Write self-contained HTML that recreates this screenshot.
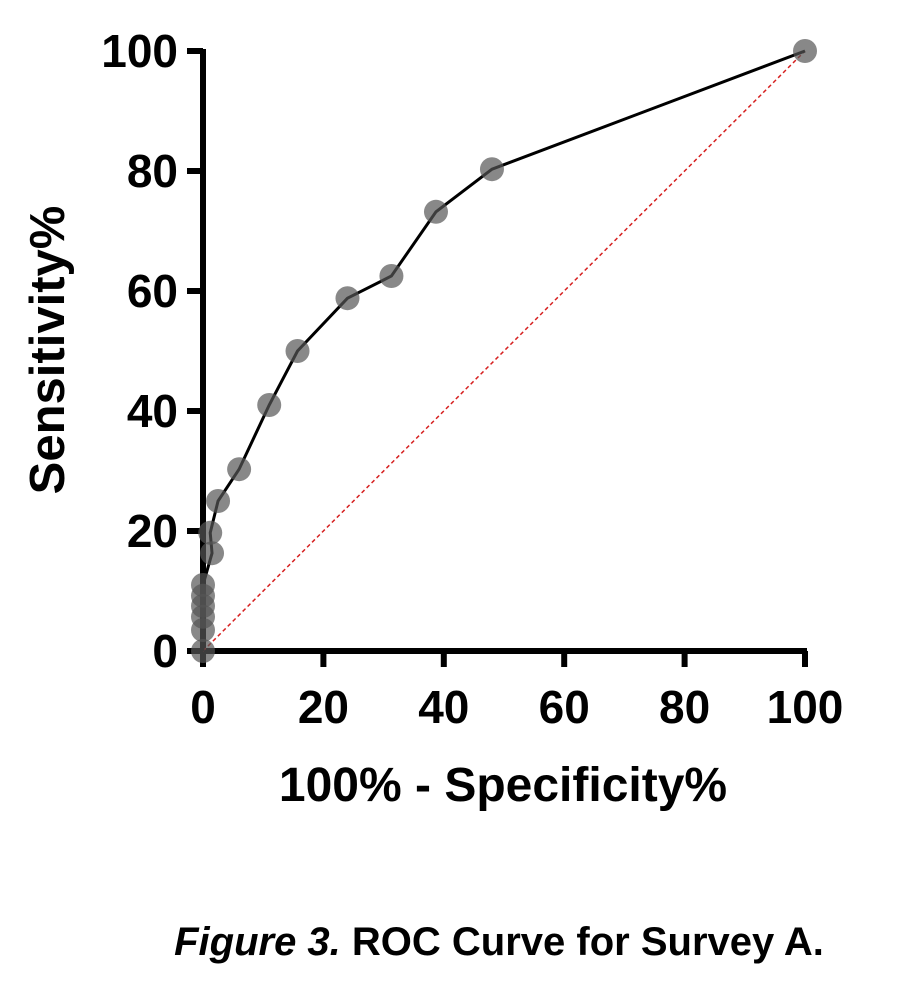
<!DOCTYPE html>
<html><head><meta charset="utf-8"><style>
body{margin:0;background:#fff;}
svg{display:block;font-family:"Liberation Sans",sans-serif;}
</style></head><body>
<svg width="913" height="988">
<g id="axes"></g>
<g id="marks"></g>
<text x="64" y="350" transform="rotate(-90 64 350)" text-anchor="middle" font-size="49" font-weight="bold">Sensitivity%</text>
<text x="503" y="801" text-anchor="middle" font-size="48" font-weight="bold">100% - Specificity%</text>
<text x="499" y="955" text-anchor="middle" font-size="40" font-weight="bold"><tspan font-style="italic">Figure 3.</tspan> ROC Curve for Survey A.</text>
</svg>
<script>
const xTicks=[0,20,40,60,80,100];
const yTicks=[0,20,40,60,80,100];
const fpr=[0,0,0,0,0,0,1.5,1.2,2.5,6,11,15.7,24,31.3,38.7,48,100];
const tpr=[0,3.5,5.7,7.5,9.2,11,16.3,19.7,25,30.3,41,50,58.8,62.5,73.2,80.3,100];
const X=v=>203+v*6.02, Y=v=>651-v*6.0;
const NS="http://www.w3.org/2000/svg";
const axes=document.getElementById('axes'), marks=document.getElementById('marks');
function mk(p,tag,a){const e=document.createElementNS(NS,tag);for(const k in a)e.setAttribute(k,a[k]);p.appendChild(e);return e;}
let e=mk(axes,'line',{x1:X(0),y1:Y(100)-2,x2:X(0),y2:Y(0)+16,stroke:'#000','stroke-width':6});


e=mk(axes,'line',{x1:X(0)-16,y1:Y(0),x2:X(100)+2,y2:Y(0),stroke:'#000','stroke-width':6});


yTicks.forEach(t=>{
 let l=mk(axes,'line',{x1:X(0)-16,y1:Y(t),x2:X(0),y2:Y(t),stroke:'#000','stroke-width':6});
 
 
 let tx=mk(axes,'text',{x:178,y:Y(t)+16,'text-anchor':'end','font-size':46,'font-weight':'bold'});tx.textContent=t;
 
 
});
xTicks.forEach(t=>{
 let l=mk(axes,'line',{x1:X(t),y1:Y(0),x2:X(t),y2:Y(0)+16,stroke:'#000','stroke-width':6});
 
 
 let tx=mk(axes,'text',{x:X(t),y:723,'text-anchor':'middle','font-size':46,'font-weight':'bold'});tx.textContent=t;
 
 
});
e=mk(marks,'line',{x1:X(0),y1:Y(0),x2:X(100),y2:Y(100),stroke:'#d62020','stroke-width':1.5,'stroke-dasharray':'4,3'});


e=mk(marks,'polyline',{points:fpr.map((v,i)=>X(v)+','+Y(tpr[i])).join(' '),fill:'none',stroke:'#000','stroke-width':3});


fpr.forEach((v,i)=>{
 let c=mk(marks,'circle',{cx:X(v),cy:Y(tpr[i]),r:12,fill:'#555','fill-opacity':0.7});
 
 
});
</script>
</body></html>
